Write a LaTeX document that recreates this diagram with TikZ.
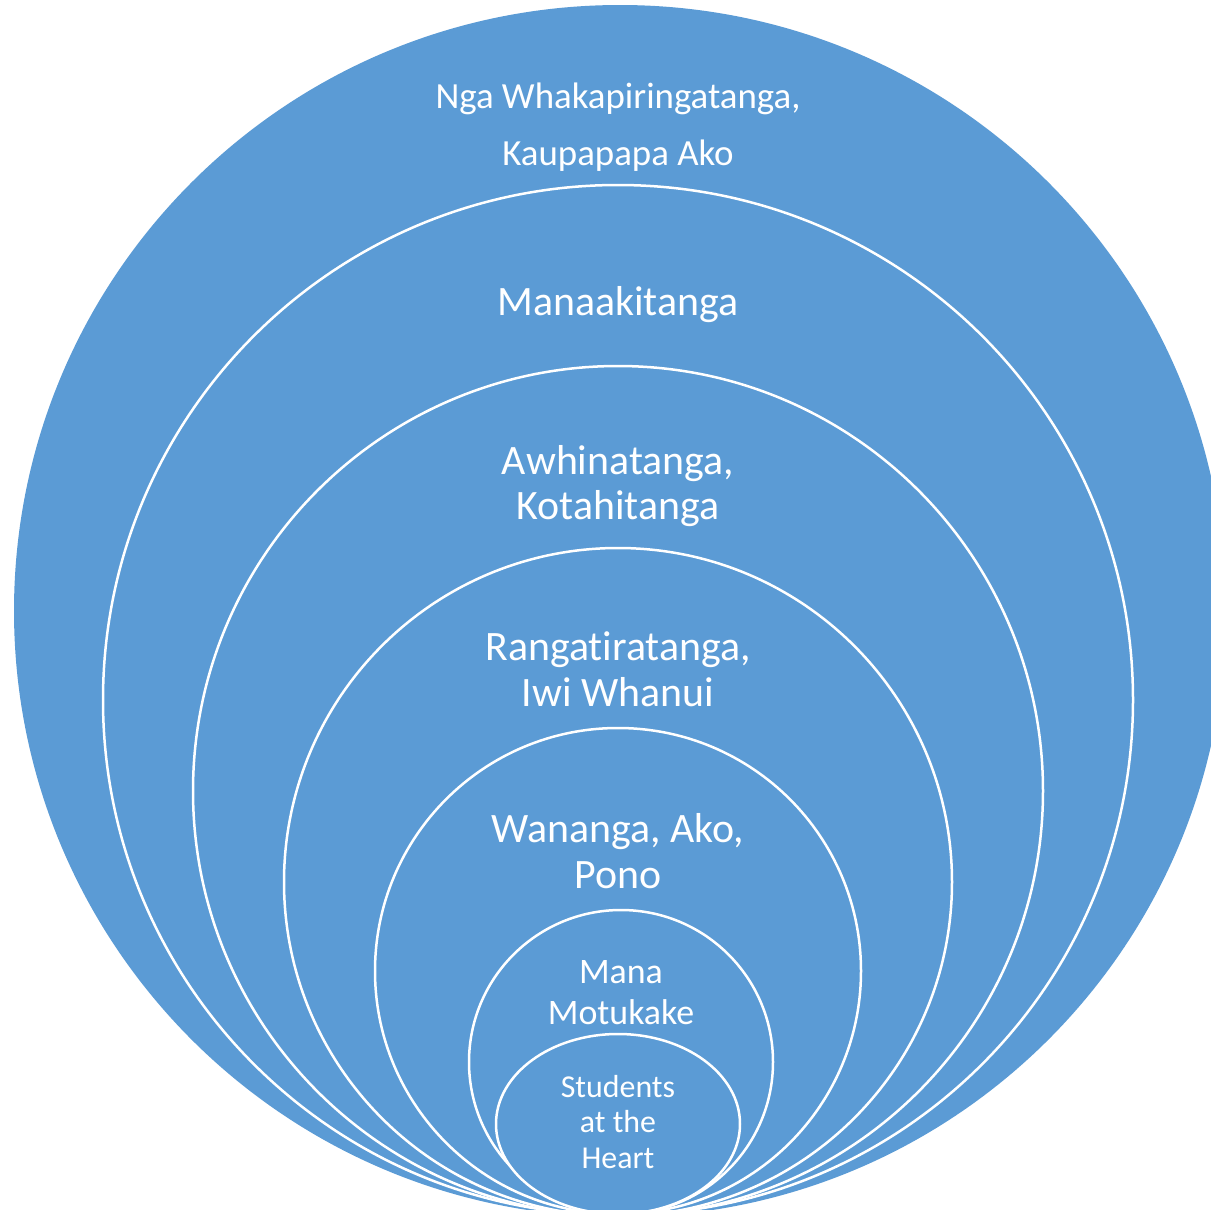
\documentclass[tikz,border=0pt]{standalone}
\usepackage{fontspec}
\setmainfont{Carlito}[RawFeature={-liga;-clig;-calt;-dlig}]
\definecolor{ringblue}{HTML}{5B9BD5}
\begin{document}
\begin{tikzpicture}[x=1bp,y=-1bp,
  ring/.style={fill=ringblue,draw=white,line width=2.5bp},
  lbl/.style={text=white,align=center,inner sep=0pt}]
\useasboundingbox (0,0) rectangle (1211,1210);
\clip (0,0) rectangle (1211,1210);
% nested rings, all touching at the bottom
\fill[ringblue] (620,611) circle[radius=606];
\draw[ring] (618,700) circle[radius=515];
\draw[ring] (618,791) circle[radius=425];
\draw[ring] (618,882) circle[radius=334];
\draw[ring] (618,971) circle[radius=243];
\draw[ring] (621,1062) circle[radius=152];
\draw[ring] (618,1124) ellipse[x radius=122,y radius=90];
% labels
\node[lbl,font=\fontsize{37}{57}\selectfont] (l1) at (618,127) {Nga Whakapiringatanga,\\Kaupapapa Ako};
\node[lbl,font=\fontsize{42}{46}\selectfont] (l2) at (618,305) {Manaakitanga};
\node[lbl,font=\fontsize{42}{46}\selectfont] (l3) at (618,486) {Awhinatanga,\\Kotahitanga};
\node[lbl,font=\fontsize{42}{46}\selectfont] (l4) at (618,669) {Rangatiratanga,\\Iwi Whanui};
\node[lbl,font=\fontsize{42}{46}\selectfont] (l5) at (618,851) {Wananga, Ako,\\Pono};
\node[lbl,font=\fontsize{36}{41}\selectfont] (l6) at (621,993) {Mana\\Motukake};
\node[lbl,font=\fontsize{32}{35.5}\selectfont] (l7) at (618,1122) {Students\\at the\\Heart};
\end{tikzpicture}
\end{document}
